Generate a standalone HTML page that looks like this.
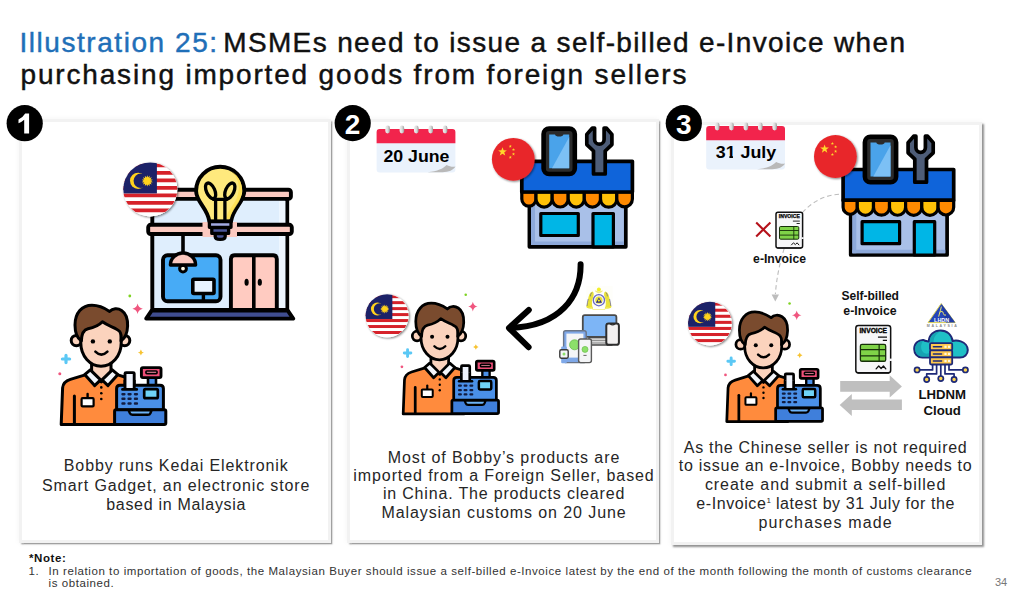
<!DOCTYPE html>
<html><head><meta charset="utf-8">
<style>
html,body{margin:0;padding:0;background:#fff;}
body{width:1011px;height:590px;position:relative;overflow:hidden;font-family:"Liberation Sans",sans-serif;color:#222;}
.t{position:absolute;white-space:nowrap;}
.title{left:21px;font-size:28px;color:#111;line-height:32px;-webkit-text-stroke:0.45px #111;}
.title .b{color:#1f6fb8;-webkit-text-stroke:0.45px #1f6fb8;}
.panel{position:absolute;box-sizing:border-box;border:3.6px solid #f2f2f2;background:#fff;box-shadow:1.7px 1.5px 1.5px rgba(0,0,0,.36),0 0 6px rgba(0,0,0,.05);}
.body{position:absolute;text-align:center;font-size:16px;color:#262626;white-space:nowrap;}
.body div{height:100%;}
.fn{font-size:11.5px;color:#333;letter-spacing:.577px;}
svg{position:absolute;left:0;top:0;}
</style></head>
<body>
<div class="t title" id="t1" style="top:27.4px;left:19.5px;letter-spacing:1.36px"><span class="b" style="letter-spacing:1.55px">Illustration 25:</span><span style="letter-spacing:-3.2px"> </span>MSMEs need to issue a self-billed e-Invoice when</div>
<div class="t title" id="t2" style="top:59px;left:20.5px;letter-spacing:1.83px">purchasing imported goods from foreign sellers</div>

<div class="panel" style="left:18.8px;top:118.7px;width:312.3px;height:423.9px"></div>
<div class="panel" style="left:347.4px;top:118.7px;width:311.8px;height:423.9px"></div>
<div class="panel" style="left:671.3px;top:122px;width:311.2px;height:422.7px;box-shadow:1.8px 1.8px 1.8px rgba(0,0,0,.42),0 0 6px rgba(0,0,0,.05)"></div>

<!-- panel 1 text -->
<div class="body" id="p1" style="left:19.7px;width:313px;top:456.3px;line-height:19.2px;letter-spacing:.88px">Bobby runs Kedai Elektronik<br>Smart Gadget, an electronic store<br><span style="letter-spacing:.7px">based in Malaysia</span></div>
<!-- panel 2 text -->
<div class="body" id="p2" style="left:348px;width:312px;top:448.5px;line-height:18.4px;letter-spacing:.91px">Most of Bobby’s products are<br>imported from a Foreign Seller, based<br><span style="letter-spacing:.82px">in China. The products cleared</span><br>Malaysian customs on 20 June</div>
<!-- panel 3 text -->
<div class="body" id="p3" style="left:669.6px;width:312px;top:438.5px;line-height:18.8px;letter-spacing:.72px">As the Chinese seller is not required<br>to issue an e-Invoice, Bobby needs to<br><span style="letter-spacing:.93px">create and submit a self-billed</span><br><span style="letter-spacing:.58px">e-Invoice<span style="font-size:8px;line-height:0;position:relative;top:-6px;letter-spacing:0">1</span> latest by 31 July for the</span><br><span style="letter-spacing:1.15px">purchases made</span></div>

<!-- footnote -->
<div class="t" style="left:29px;top:551.5px;font-size:11.5px;font-weight:bold;color:#111;letter-spacing:.6px">*Note:</div>
<div class="t fn" style="left:28.5px;top:564.7px">1.</div>
<div class="t fn" id="f1" style="left:48.5px;top:564.7px">In relation to importation of goods, the Malaysian Buyer should issue a self-billed e-Invoice latest by the end of the month following the month of customs clearance</div>
<div class="t fn" style="left:48.5px;top:577.2px">is obtained.</div>
<div class="t" style="left:995px;top:576px;font-size:11px;color:#777;">34</div>

<svg id="art" width="1011" height="590" viewBox="0 0 1011 590">
<defs>
<!-- Malaysia flag, centred 0,0 radius 27 -->
<clipPath id="cpMy"><circle cx="0" cy="0" r="27"/></clipPath>
<filter id="sh" x="-30%" y="-30%" width="170%" height="170%"><feGaussianBlur in="SourceAlpha" stdDeviation="1.1"/><feOffset dx="1.4" dy="1.4"/><feComponentTransfer><feFuncA type="linear" slope=".5"/></feComponentTransfer><feMerge><feMergeNode/><feMergeNode in="SourceGraphic"/></feMerge></filter>
<g id="myflag" filter="url(#sh)">
 <circle cx="0" cy="0" r="27" fill="#fff"/>
 <g clip-path="url(#cpMy)">
  <rect x="-28" y="-28" width="56" height="56" fill="#fff"/>
  <g fill="#d6222a">
   <rect x="-28" y="-25.9" width="56" height="3.75"/>
   <rect x="-28" y="-18.4" width="56" height="3.75"/>
   <rect x="-28" y="-10.9" width="56" height="3.75"/>
   <rect x="-28" y="-3.4" width="56" height="3.75"/>
   <rect x="-28" y="4.1" width="56" height="3.75"/>
   <rect x="-28" y="11.6" width="56" height="3.75"/>
   <rect x="-28" y="19.1" width="56" height="3.75"/>
  </g>
  <rect x="-28" y="-28" width="34.6" height="32" fill="#1d2468"/>
  <circle cx="-12.2" cy="-8.6" r="8.1" fill="#ffd21f"/>
  <circle cx="-9.5" cy="-8.6" r="7.2" fill="#1d2468"/>
  <g fill="#ffd21f" transform="translate(-3,-8.5)">
   <circle r="3.4"/>
   <path id="ray" d="M0,-5.7 L1,-3 L-1,-3Z"/>
   <use href="#ray" transform="rotate(25.7)"/><use href="#ray" transform="rotate(51.4)"/><use href="#ray" transform="rotate(77.1)"/>
   <use href="#ray" transform="rotate(102.9)"/><use href="#ray" transform="rotate(128.6)"/><use href="#ray" transform="rotate(154.3)"/>
   <use href="#ray" transform="rotate(180)"/><use href="#ray" transform="rotate(205.7)"/><use href="#ray" transform="rotate(231.4)"/>
   <use href="#ray" transform="rotate(257.1)"/><use href="#ray" transform="rotate(282.9)"/><use href="#ray" transform="rotate(308.6)"/><use href="#ray" transform="rotate(334.3)"/>
  </g>
 </g>
</g>
<!-- China flag centred 0,0 radius 21.4 -->
<path id="st5" d="M0,-4.6 L1.08,-1.49 L4.37,-1.42 L1.75,0.57 L2.7,3.72 L0,1.84 L-2.7,3.72 L-1.75,0.57 L-4.37,-1.42 L-1.08,-1.49Z"/>
<g id="cnflag" filter="url(#sh)">
 <circle cx="0" cy="0" r="21.4" fill="#e8282c"/>
 <g fill="#ffd92a">
  <use href="#st5" transform="translate(-10.8,-7.5)"/>
  <use href="#st5" transform="translate(-3,-13) scale(.36)"/>
  <use href="#st5" transform="translate(0.2,-9.6) scale(.36)"/>
  <use href="#st5" transform="translate(0.2,-5.2) scale(.36)"/>
  <use href="#st5" transform="translate(-3,-2) scale(.36)"/>
 </g>
</g>
<!-- Bobby + cash register, in panel-1 absolute coords -->
<g id="bobby" stroke="#000" stroke-width="3" stroke-linejoin="round" stroke-linecap="round">
 <!-- body -->
 <path d="M61.2,424.6 L62.6,388 Q63.2,381.5 70.4,379.4 L86,374.6 L117,374.6 L128,378 V424.6 Z" fill="#ff8b3d"/>
 <path d="M74.4,396 V424" fill="none"/>
 <!-- neck -->
 <path d="M91.6,358 V373 L101.3,382 L111,373 V358 Z" fill="#fbd3bd"/>
 <!-- collar -->
 <path d="M84.7,374.6 L90.3,369.8 L100.6,379.8 L94.6,385.6 Z" fill="#f3f6fb"/>
 <path d="M117.9,374.6 L112.3,369.8 L102,379.8 L108,385.6 Z" fill="#f3f6fb"/>
 <!-- buttons -->
 <g fill="#000" stroke="none"><circle cx="101.3" cy="387.4" r="1.3"/><circle cx="101.3" cy="393.2" r="1.3"/><circle cx="101.3" cy="399" r="1.3"/></g>
 <!-- badge -->
 <path d="M87.6,394 V398" stroke-width="2.4" fill="none"/>
 <rect x="81.6" y="398.2" width="12" height="8.2" rx="1" fill="#fff" stroke-width="2.2"/>
 <!-- ears -->
 <circle cx="76.4" cy="340.6" r="5.2" fill="#fbd3bd"/>
 <circle cx="124.6" cy="340.6" r="5.2" fill="#fbd3bd"/>
 <!-- face -->
 <path d="M80.8,318 V343 C80.8,356 90,366.2 101,366.2 C112,366.2 121.2,356 121.2,343 V318 Z" fill="#fbd3bd"/>
 <!-- hair -->
 <path d="M81.4,341 C77,338 75,333 75,325 C75,313 82,305.2 92,305.2 C98,305.2 104,307.6 109.6,311.4 C112.6,308.4 117.6,307.8 121.6,310.4 C126.4,313.6 127.8,320 127.6,326 C127.4,332 125.4,338 121,341 C121.6,336 121.2,333.4 119.6,331.4 C116.4,327.6 109,326.6 102.4,321.8 C98.4,326 92.4,328 88,328.8 C83.6,329.8 81.6,333 81.4,341 Z" fill="#7a4b2e"/>
 <!-- eyes & smile -->
 <circle cx="92.9" cy="341.4" r="2.2" fill="#000" stroke="none"/>
 <circle cx="109.8" cy="341.4" r="2.2" fill="#000" stroke="none"/>
 <path d="M95.4,351.6 Q101.4,357.6 107.4,351.6" fill="none" stroke-width="2.6"/>
 <!-- register: paper -->
 <rect x="125" y="372.6" width="9.2" height="17" rx="1" fill="#eef3fc" stroke-width="2.9"/>
 <!-- display stem -->
 <rect x="148" y="377" width="8" height="9" fill="#4a90e8" stroke-width="2.6"/>
 <!-- display -->
 <rect x="141.4" y="367.6" width="19.6" height="10" rx="1.5" fill="#ee4f78" stroke-width="2.9"/>
 <rect x="146" y="371" width="11" height="2.6" rx=".8" fill="#ff93ad" stroke-width="1.7"/>
 <!-- register upper -->
 <path d="M116.6,410 V388.6 Q116.6,385.2 120,385.2 H160 Q163.4,385.2 163.4,388.6 V410 Z" fill="#4a90e8"/>
 <!-- paper front -->
 <rect x="125" y="380" width="9.2" height="9" fill="#eef3fc" stroke="none"/>
 <path d="M125,380 V389.4 M134.2,380 V389.4" stroke-width="2.9" fill="none" stroke-linecap="butt"/>
 <path d="M122.4,389.4 H136.8" stroke-width="2.6" fill="none"/>
 <!-- keys -->
 <g fill="#121c40" stroke="none">
  <rect x="121.3" y="392.9" width="4.3" height="2.5" rx="1.1"/><rect x="127.4" y="392.9" width="4.3" height="2.5" rx="1.1"/><rect x="133.8" y="392.9" width="4.3" height="2.5" rx="1.1"/>
  <rect x="121.3" y="397.6" width="4.3" height="2.5" rx="1.1"/><rect x="127.4" y="397.6" width="4.3" height="2.5" rx="1.1"/><rect x="133.8" y="397.6" width="4.3" height="2.5" rx="1.1"/>
  <rect x="121.3" y="402.3" width="4.3" height="2.5" rx="1.1"/><rect x="127.4" y="402.3" width="4.3" height="2.5" rx="1.1"/><rect x="133.8" y="402.3" width="4.3" height="2.5" rx="1.1"/>
 </g>
 <!-- screen -->
 <rect x="144.2" y="389.2" width="13.6" height="9" rx="1.2" fill="#6fd3f7" stroke-width="2.7"/>
 <!-- drawer -->
 <rect x="114.6" y="409.8" width="51.2" height="14.6" rx="1.5" fill="#3f7fdb"/>
 <path d="M128.6,410.2 H151.6 L150.4,413.2 Q149.8,414.8 147.8,414.8 H132.4 Q130.4,414.8 129.8,413.2 Z" fill="#6db3f7" stroke-width="2.4"/>
 <!-- sparkles -->
 <g stroke="none">
  <circle cx="129.8" cy="296" r="1.4" fill="#7ed321"/>
  <path d="M137.6,303.6 Q138.4,308 142.8,308.8 Q138.4,309.6 137.6,314 Q136.8,309.6 132.4,308.8 Q136.8,308 137.6,303.6Z" fill="#f0567f"/>
  <path d="M140.9,349.4 Q141.4,351.9 143.9,352.4 Q141.4,352.9 140.9,355.4 Q140.4,352.9 137.9,352.4 Q140.4,351.9 140.9,349.4Z" fill="#f7c331"/>
  <path d="M66,355.4 V362.6 M62.4,359 H69.6" fill="none" stroke="#5bc8f5" stroke-width="3.2" stroke-linecap="round"/>
  <circle cx="59.8" cy="373.8" r="1.5" fill="#f0567f"/>
 </g>
</g>
<!-- calendar: origin at top-left of body (0,0) = (376.6,129) ; size 78.8 x 43.5 -->
<linearGradient id="ring" x1="0" x2="1" y1="0" y2="0"><stop offset="0" stop-color="#f2f2f2"/><stop offset=".55" stop-color="#d9d9d9"/><stop offset="1" stop-color="#9a9a9a"/></linearGradient>
<g id="cal">
 <path d="M0,14 H78.8 V38 L52,43.5 H3 Q0,43.5 0,40.5 Z" fill="#eaf2fc"/>
 <path d="M50,43.5 C60,42.5 66,40 70,36 C73,37.6 76,38.2 78.8,37.6 V40.5 Q78.8,43.5 75.8,43.5 Z" fill="#eaf2fc"/>
 <path d="M51,43.3 C61,42.3 66.5,39.6 70,36 C73,37.6 76,38.2 78.8,37.6 C77,41 72,43.3 66,43.3 Z" fill="#b9b9b9"/>
 <path d="M3,0 H75.8 Q78.8,0 78.8,3 V14.2 H0 V3 Q0,0 3,0Z" fill="#f2244c"/>
 <g fill="url(#ring)">
  <rect x="8.7" y="-3.4" width="4.6" height="7.8" rx="2.3"/>
  <rect x="23" y="-3.4" width="4.6" height="7.8" rx="2.3"/>
  <rect x="37.4" y="-3.4" width="4.6" height="7.8" rx="2.3"/>
  <rect x="51.8" y="-3.4" width="4.6" height="7.8" rx="2.3"/>
  <rect x="66.2" y="-3.4" width="4.6" height="7.8" rx="2.3"/>
 </g>
</g>
<!-- China shop in panel-2 absolute coords -->
<g id="cnshop" stroke="#000" stroke-width="3.7" stroke-linejoin="round" stroke-linecap="round">
 <!-- building -->
 <rect x="529.4" y="200" width="96.4" height="46.8" fill="#a9c0e8"/>
 <rect x="531" y="204" width="4" height="41" fill="#8da9da" stroke="none"/>
 <path d="M531,241.5 H624 V245 H531Z" fill="#8da9da" stroke="none"/>
 <!-- window -->
 <rect x="540.8" y="213.5" width="37.5" height="22" fill="#00b6e6" stroke-width="3.2"/>
 <!-- door -->
 <rect x="593" y="213.5" width="20.4" height="33.3" fill="#00b6e6" stroke-width="3.2"/>
 <!-- scallops -->
 <g stroke-width="3.2">
  <path d="M521.8,192 H536 V199 A7.1,7.1 0 0 1 521.8,199Z" fill="#ff8a00"/>
  <path d="M536,192 H552.2 V199 A8.1,8.1 0 0 1 536,199Z" fill="#ffc107"/>
  <path d="M552.2,192 H568.2 V199 A8,8 0 0 1 552.2,199Z" fill="#ff8a00"/>
  <path d="M568.2,192 H584.3 V199 A8.05,8.05 0 0 1 568.2,199Z" fill="#ffc107"/>
  <path d="M584.3,192 H600.5 V199 A8.1,8.1 0 0 1 584.3,199Z" fill="#ff8a00"/>
  <path d="M600.5,192 H616.8 V199 A8.15,8.15 0 0 1 600.5,199Z" fill="#ffc107"/>
  <path d="M616.8,192 H632.4 V199 A7.8,7.8 0 0 1 616.8,199Z" fill="#ff8a00"/>
 </g>
 <!-- awning -->
 <rect x="521.8" y="161.3" width="110.6" height="30.7" fill="#0f64da"/>
 <!-- wrench -->
 <path d="M594.6,128 L592.4,128 L586.8,134.4 V144.6 L593.5,151 V174 H605.2 V151 L611.9,144.6 V134.4 L606.3,128 L604.1,128 V139.4 A4.75,4.75 0 0 1 594.6,139.4 Z" fill="#4e5d78"/>
 <!-- phone -->
 <rect x="543.6" y="128.6" width="31.2" height="45.4" rx="5.5" fill="#2b2b2b" stroke-width="4.6"/>
 <path d="M549.2,134.4 H555 Q555.6,136.4 559.2,136.4 Q562.8,136.4 563.4,134.4 H569.2 V168.2 H549.2Z" fill="#4aa3ea" stroke="none"/>
 <path d="M569.2,137 V168.2 H552 Z" fill="#7cc0f5" stroke="none"/>
</g>
<!-- invoice doc, origin top-left, size 28.2 x 36.8 -->
<g id="inv">
 <rect x="0.7" y="0.7" width="26.6" height="35.6" rx="2" fill="#f7f7f9" stroke="#111" stroke-width="1.5" vector-effect="non-scaling-stroke"/>
 <path d="M2,36.4 H26" stroke="#111" stroke-width="1.2" fill="none"/>
 <text x="14" y="6.5" font-family="Liberation Sans, sans-serif" font-weight="bold" font-size="5.1" text-anchor="middle" fill="#000" stroke="#000" stroke-width=".25" textLength="21" lengthAdjust="spacing">INVOICE</text>
 <path d="M17.6,9.5 H24.5 M21.3,11.9 H24.5" stroke="#111" stroke-width=".9" fill="none"/>
 <rect x="4.2" y="14.9" width="19.3" height="12.7" rx="1.2" fill="#7fd348" stroke="#16300a" stroke-width="1"/>
 <path d="M4.2,18.9 H23.5 M4.2,23.5 H23.5 M18.5,14.9 V27.6" stroke="#16300a" stroke-width=".9" fill="none"/>
 <path d="M16.2,33.3 L18.2,31.2 L20,33 L21.8,31.2 L23.6,33.3" stroke="#111" stroke-width="1" fill="none" stroke-linejoin="round" stroke-linecap="round"/>
 <path d="M27.3,25.6 V27.4" stroke="#f7f7f9" stroke-width="2"/>
</g>

</defs>
<!-- ===== Panel 1 shop ===== -->
<g id="shop1" stroke="#000" stroke-width="3.9" stroke-linejoin="round" stroke-linecap="round">
 <!-- wall -->
 <rect x="152.3" y="196" width="134.9" height="114" fill="#dfeefd"/>
 <rect x="279" y="201" width="6.3" height="107" fill="#edf6ff" stroke="none"/>
 <!-- top bar -->
 <rect x="150.5" y="189.7" width="140.4" height="9.2" rx="2.5" fill="#fbc9c0"/>
 <!-- middle bar -->
 <rect x="148.2" y="224.8" width="143.6" height="9.2" rx="2.5" fill="#fbc9c0"/>
 <rect x="202.5" y="222" width="34.5" height="15" fill="#fbc9c0" stroke="none"/>
 <!-- base -->
 <path d="M151.6,310.6 H287.8 L293.2,318.6 H146.2 Z" fill="#3f4d8f"/>
 <!-- window -->
 <rect x="163" y="255.3" width="57.5" height="46" rx="4.5" fill="#47abf6"/>
 <!-- lamp -->
 <path d="M183,236 V252" fill="none" stroke-width="3.6"/>
 <circle cx="183" cy="268.6" r="3.4" fill="#fffbe6" stroke-width="3"/>
 <path d="M170.4,265 A12.6,12 0 0 1 195.6,265 Z" fill="#fbc9c0" stroke-width="3.4"/>
 <!-- monitor -->
 <path d="M203.4,293 V301" fill="none" stroke-width="3.4"/>
 <rect x="192.8" y="279.3" width="21.2" height="14.2" rx="1" fill="#e8f3ff" stroke-width="3.6"/>
 <!-- door -->
 <path d="M230.9,310 V259 Q230.9,255.3 234.6,255.3 H273.1 Q276.8,255.3 276.8,259 V310 Z" fill="#ffcbc1"/>
 <path d="M253.8,256 V310" fill="none" stroke-width="3.6"/>
 <ellipse cx="246.6" cy="282.2" rx="1.4" ry="2.8" fill="#000" stroke-width="1.4"/>
 <ellipse cx="259.8" cy="282.2" rx="1.4" ry="2.8" fill="#000" stroke-width="1.4"/>
 <!-- bulb -->
 <path d="M220.2,166.8 A24.1,24.1 0 0 1 244.3,190.9 C244.3,202 232.8,208 231,221.5 H209.4 C207.6,208 196.1,202 196.1,190.9 A24.1,24.1 0 0 1 220.2,166.8 Z" fill="#ffe97d"/>
 <path d="M231,171 A22,22 0 0 1 241.2,196 C239,205 231.5,210 230,219 H226 C228,208 236,204 238,194 A22,22 0 0 0 231,171Z" fill="#ffdf50" stroke="none" opacity=".8"/>
 <g fill="none" stroke-width="3.3">
  <ellipse cx="210.6" cy="190.8" rx="4.2" ry="8.3" transform="rotate(-24 210.6 190.8)"/>
  <ellipse cx="229.8" cy="190.8" rx="4.2" ry="8.3" transform="rotate(24 229.8 190.8)"/>
  <path d="M213.5,199.4 H227 M215.6,199.4 V220 M224.9,199.4 V220"/>
 </g>
 <!-- bulb base -->
 <rect x="209.4" y="221.5" width="21.6" height="5.8" fill="#a3abe3" stroke-width="3.3"/>
 <path d="M211.8,227.6 H228.6 V233.4 H211.8Z" fill="#4b5698" stroke-width="3.3"/>
 <path d="M215.2,233.6 H225.2 V236.5 Q225.2,239.4 220.2,239.4 Q215.2,239.4 215.2,236.5Z" fill="#4b5698" stroke-width="3.3"/>
</g>
<use href="#myflag" transform="translate(150.3,189.4)"/>
<use href="#bobby"/>
<!-- ===== Panel 2 ===== -->
<use href="#cal" transform="translate(376.6,129)"/>
<text x="416.4" y="162.4" font-family="Liberation Sans, sans-serif" font-weight="bold" font-size="17" text-anchor="middle" fill="#000" textLength="66" lengthAdjust="spacingAndGlyphs">20 June</text>
<use href="#cnshop"/>
<use href="#cnflag" transform="translate(513.3,159.3)"/>
<!-- big arrow -->
<g fill="none" stroke="#000" stroke-width="6" stroke-linecap="round" stroke-linejoin="round">
 <path d="M580.6,264.2 C581,297 560,326 510.5,328"/>
 <path d="M528.8,310 L509,328 L528.6,347.2"/>
</g>
<use href="#myflag" transform="translate(387.1,315.8) scale(.796)"/>
<use href="#bobby" transform="translate(347.4,20.3) scale(.9117,.927)"/>
<!-- customs crest (approx) -->
<g id="crest">
 <rect x="586.5" y="286" width="26" height="24" fill="#fdfdf6" opacity=".6"/>
 <circle cx="598.9" cy="289.4" r="2" fill="#f3f02a"/>
 <path d="M595.4,291 Q598.9,294.6 602.4,291 Q598.9,292.8 595.4,291Z" fill="#f1ee8a" stroke="#efe96a" stroke-width=".8"/>
 <!-- tigers -->
 <path d="M592.6,291.4 C589.6,292 588.6,296 588,300 C587.4,303 586.6,305 586.4,307 L592.6,307.4 C591.4,304 592,300 593.2,297 C594,295 594,292.6 592.6,291.4Z" fill="#e9e23a"/>
 <path d="M605.2,291.4 C608.2,292 609.2,296 609.8,300 C610.4,303 611.2,305 611.4,307 L605.2,307.4 C606.4,304 605.8,300 604.6,297 C603.8,295 603.8,292.6 605.2,291.4Z" fill="#e9e23a"/>
 <path d="M588.2,299 Q587.2,303 587,306 M609.6,299 Q610.6,303 610.8,306 M591.8,292.6 Q590.4,294 590.4,296.4 M606,292.6 Q607.4,294 607.4,296.4" stroke="#4a4aa0" stroke-width=".8" fill="none" opacity=".75"/>
 <!-- shield -->
 <circle cx="598.9" cy="300.2" r="5.6" fill="#f4f4fb" stroke="#6a6ac4" stroke-width="1.3"/>
 <circle cx="598.9" cy="300.2" r="3.6" fill="#e9e23a"/>
 <path d="M598.9,297.4 L602,302.8 H595.8Z" fill="#2a2a8c"/>
 <circle cx="598.9" cy="300.6" r="1.1" fill="#f3f02a"/>
 <!-- banner -->
 <path d="M586.4,306.4 Q589.6,307.6 592.8,307 L593,309.6 H604.8 L605,307 Q608.2,307.6 611.4,306.4 L611,307.8 Q608,309 605.6,308.6 L604.8,310 H593 L592.2,308.6 Q589.8,309 586.8,307.8Z" fill="#ebe43c"/>
</g>
<!-- devices -->
<g id="devices" stroke-linejoin="round">
 <!-- laptop -->
 <rect x="582.8" y="315.2" width="33.6" height="21.6" rx="2" fill="#7db5f6" stroke="#4a4a4a" stroke-width="1.8"/>
 <path d="M589,337.6 H612 V345 H589Z" fill="#d9d9d9" stroke="#4a4a4a" stroke-width="1.4"/>
 <path d="M590.5,340.4 H611 M590.5,343 H611" stroke="#8a8a8a" stroke-width="1" fill="none"/>
 <!-- phone right -->
 <rect x="606.3" y="323.4" width="12.6" height="21.4" rx="2.4" fill="#f2f0f0" stroke="#2d2d2d" stroke-width="2"/>
 <path d="M610,323.8 Q612.6,326 615.2,323.8" fill="none" stroke="#2d2d2d" stroke-width="1.2"/>
 <!-- tablet -->
 <rect x="563.6" y="330.8" width="22.6" height="31.8" rx="2" fill="#7fa8e8" stroke="#6a7486" stroke-width="1.4"/>
 <rect x="566.4" y="333.6" width="17" height="24" fill="#f4f5f7"/>
 <circle cx="574.6" cy="344.8" r="5" fill="#8ce06a" stroke="#6bbf4c" stroke-width=".8"/>
 <!-- watch -->
 <rect x="561.2" y="346.4" width="5.6" height="16.8" rx="1" fill="#7fa8e8"/>
 <rect x="559.8" y="349.8" width="8.4" height="8.4" rx="1.4" fill="#f4f5f7" stroke="#3a3a3a" stroke-width="1.4"/>
 <circle cx="564" cy="354" r="1.5" fill="#8ce06a"/>
 <!-- phone centre -->
 <rect x="578.6" y="339" width="12.8" height="23.6" rx="2" fill="#f4f5f7" stroke="#5a5a5a" stroke-width="1.4"/>
 <circle cx="585" cy="349.4" r="3" fill="#8ce06a" stroke="#6bbf4c" stroke-width=".7"/>
 <path d="M583.4,355.4 H586.6" stroke="#666" stroke-width="1" fill="none"/>
</g>
<!-- ===== Panel 3 ===== -->
<use href="#cal" transform="translate(706.2,126)"/>
<text x="746" y="158.3" font-family="Liberation Sans, sans-serif" font-weight="bold" font-size="17" text-anchor="middle" fill="#000" textLength="60.5" lengthAdjust="spacingAndGlyphs">31 July</text>
<path d="M725.6,155.3 H729.35 V158.6 H725.6Z M732.95,155.3 H736.2 V158.6 H732.95Z" fill="#eaf2fc"/>
<!-- dashed curve -->
<path d="M839,194.2 C815,196 797,212 787,240 C780,260 776.5,278 775.4,294" fill="none" stroke="#bdbdbd" stroke-width="1.1" stroke-dasharray="4.5,3"/>
<path d="M771.6,294.6 H779 L775.3,301.4Z" fill="#bdbdbd"/>
<use href="#cnshop" transform="translate(321.3,8.2)"/>
<use href="#cnflag" transform="translate(835.4,156.5)"/>
<!-- red X -->
<path d="M756.2,222.6 L770.4,236.4 M770.4,222.6 L756.2,236.4" stroke="#b5121b" stroke-width="2.1" fill="none"/>
<use href="#inv" transform="translate(775.3,211.6)"/>
<g font-family="Liberation Sans, sans-serif" font-weight="bold" fill="#111" text-anchor="middle">
 <text x="779.6" y="263.4" font-size="12.2" textLength="53" lengthAdjust="spacingAndGlyphs">e-Invoice</text>
 <text x="870.2" y="300.3" font-size="12.4" textLength="57.6" lengthAdjust="spacingAndGlyphs">Self-billed</text>
 <text x="870" y="315" font-size="12.4" textLength="53.4" lengthAdjust="spacingAndGlyphs">e-Invoice</text>
 <text x="942.2" y="399.4" font-size="13.2" textLength="47.6" lengthAdjust="spacingAndGlyphs">LHDNM</text>
 <text x="942.2" y="414.7" font-size="13.2" textLength="37.4" lengthAdjust="spacingAndGlyphs">Cloud</text>
</g>
<use href="#inv" transform="translate(854.9,324.5) scale(1.31,1.332)"/>
<!-- grey arrows -->
<path d="M840.2,381.1 H889.7 V375.3 L901.9,386.4 L889.7,397.4 V391.8 H840.2Z" fill="#bfbfbf"/>
<path d="M901.9,399.4 H851.8 V393.9 L839.7,405 L851.8,416 V410.1 H901.9Z" fill="#bfbfbf"/>
<use href="#myflag" transform="translate(709.9,323.6) scale(.81)"/>
<use href="#bobby" transform="translate(670.75,31.96) scale(.9154,.9175)"/>
<!-- LHDN logo -->
<g id="lhdn">
 <path d="M941.2,303.6 L955.2,322.6 H928 Z" fill="#2545b8" stroke="#e8d94a" stroke-width=".9" stroke-linejoin="round"/>
 <path d="M941.2,303.6 L955.2,322.6 H946 Z" fill="#1f3aa6"/>
 <path d="M938.6,316.6 Q940.6,310 941.4,306.6 M939.6,312.6 Q942.6,309.6 943.4,313.6 Q944,316 946,315" fill="none" stroke="#e8e26a" stroke-width="1"/>
 <text x="941.6" y="321.8" font-family="Liberation Sans, sans-serif" font-weight="bold" font-size="4.6" fill="#fff" text-anchor="middle" textLength="15" lengthAdjust="spacingAndGlyphs">LHDN</text>
 <text x="941.8" y="327" font-family="Liberation Sans, sans-serif" font-weight="bold" font-size="3.6" fill="#8a8a8a" text-anchor="middle" textLength="30" lengthAdjust="spacing">MALAYSIA</text>
</g>
<!-- cloud -->
<g id="cloud" stroke="#1e2a78" stroke-width="2" stroke-linejoin="round" stroke-linecap="round">
 <path d="M929.4,357.6 H922.4 C917.4,357.6 914.2,353.6 914.2,349 C914.2,343.6 918.6,339.6 923.6,340 C924.6,341 925.6,341 928.8,341.6 C929,335 934,330.4 940.6,330.4 C947,330.4 951.8,334.8 952.6,341 C955,340.2 958,340.4 960.8,341.4 C965,342.8 967.8,346.4 967.8,350 C967.8,354.4 964.4,357.6 960,357.6 H953 Z" fill="#1fc0c6"/>
 <path d="M929.4,356.6 H922.4 C918,356.6 915.2,353 915.2,349 C915.2,344.6 918.6,341 923.2,341 C920.6,344 920.4,349 923,352 C925,354 927,354 929.4,353 Z" fill="#17a3b2" stroke="none"/>
 <path d="M929.6,341.6 C929.8,336 934,331.4 940.6,331.4 C935.6,333.4 933.4,337.6 933.6,343 Z" fill="#17a3b2" stroke="none"/>
 <!-- circuit -->
 <g fill="none" stroke-width="1.7">
  <path d="M919.6,369.9 H932.6 V364.6 M936.6,364.6 V373.9 H926.7 V377 M940.8,364.6 V376 M945,364.6 V373.9 H954.1 V377 M949,364.6 V369.9 H962.8"/>
 </g>
 <g fill="#ffd54f" stroke-width="1.7">
  <circle cx="917.1" cy="369.9" r="2.6"/><circle cx="926.7" cy="379.5" r="2.6"/><circle cx="940.8" cy="378.6" r="2.6"/><circle cx="954.1" cy="379.5" r="2.6"/><circle cx="965.4" cy="369.9" r="2.6"/>
 </g>
 <!-- server -->
 <g fill="#ffc84d" stroke-width="1.8">
  <rect x="930" y="343.2" width="22.2" height="7.1" rx="1.2"/>
  <rect x="930" y="350.3" width="22.2" height="7.1" rx="1.2"/>
  <rect x="930" y="357.4" width="22.2" height="7.1" rx="1.2"/>
 </g>
 <g stroke-width="1.5" fill="none">
  <path d="M933.4,346.8 H941.6 M933.4,353.9 H941.6 M933.4,361 H941.6"/>
 </g>
 <g fill="#fff8e1" stroke="none">
  <rect x="944.4" y="345.7" width="2.2" height="2.2"/><rect x="948" y="345.7" width="2.2" height="2.2"/>
  <rect x="944.4" y="352.8" width="2.2" height="2.2"/><rect x="948" y="352.8" width="2.2" height="2.2"/>
  <rect x="944.4" y="359.9" width="2.2" height="2.2"/><rect x="948" y="359.9" width="2.2" height="2.2"/>
 </g>
</g>

<!-- number circles -->
<g font-family="Liberation Sans, sans-serif" font-weight="bold" font-size="28" fill="#fff" text-anchor="middle">
<circle cx="24.7" cy="123.2" r="18.1" fill="#000"/><path d="M29.1,113.6 V133.5 H24.2 V119.8 Q21.6,122.2 18.5,123.3 V119.4 Q23,117.5 25.2,113.6 Z"/>
<circle cx="352.7" cy="123.1" r="18.1" fill="#000"/><text x="352.6" y="133.5">2</text>
<circle cx="683.8" cy="123.2" r="18.1" fill="#000"/><text x="683.8" y="133.6">3</text>
</g>
</svg>
</body></html>
